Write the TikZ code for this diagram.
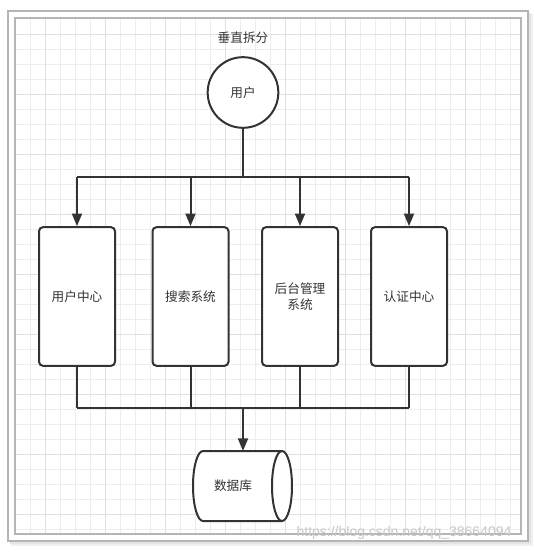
\documentclass[tikz,border=0pt]{standalone}
\usepackage{fontspec}
\setmainfont{Noto Sans CJK SC}
\newfontfamily\wmfont{Liberation Sans}
\usetikzlibrary{arrows.meta}
\definecolor{ink}{HTML}{333333}
\definecolor{gridc}{HTML}{EDEDED}
\definecolor{gridm}{HTML}{E0E0E0}
\definecolor{framec}{HTML}{B5B5B5}
\tikzset{
  conn/.style={draw=ink, line width=1.5pt},
  arr/.style={conn, -{Triangle[length=9.5pt,width=7.5pt]}},
  sysbox/.style={draw=ink, line width=1.5pt, fill=white, rounded corners=3pt,
    minimum width=57pt, minimum height=104pt, inner sep=0pt, align=center,
    font=\fontsize{9.5pt}{11.5pt}\selectfont, text=ink},
  usercircle/.style={draw=ink, line width=1.5pt, fill=white, circle,
    minimum size=53pt, inner sep=0pt, font=\fontsize{9.5pt}{11.5pt}\selectfont, text=ink},
  lbl/.style={font=\fontsize{9.5pt}{11.5pt}\selectfont, text=ink}
}
\begin{document}
\begin{tikzpicture}[x=0.75pt,y=-0.75pt]
\useasboundingbox (0,0) rectangle (534,554);
\fill[white] (0,0) rectangle (534,554);
% shadow and frames
\fill[black!6] (11,14) rectangle (533,546);
\fill[black!10] (10,13) rectangle (531,544);
\draw[framec, fill=white, line width=0.9pt] (8,11) rectangle (528,541);
\begin{scope}
\clip (15,18) rectangle (521,534);
\foreach \i in {1,...,34} {
  \draw[gridc, line width=0.75pt] ({15+\i*15},18) -- ({15+\i*15},534);
  \draw[gridc, line width=0.75pt] (15,{19+\i*15}) -- (521,{19+\i*15});
}
\foreach \i in {0,...,8} {
  \draw[gridm, line width=0.75pt] ({45+\i*60},18) -- ({45+\i*60},534);
  \draw[gridm, line width=0.75pt] (15,{34+\i*60}) -- (521,{34+\i*60});
}
\end{scope}
\draw[framec, line width=0.9pt] (15,18) rectangle (521,534);

% title
\node[lbl] (title) at (243,38) {垂直拆分};

% user circle
\node[usercircle] (user) at (243,92.5) {用户};

% boxes
\node[sysbox] (b1) at (77,296.5) {用户中心};
\node[sysbox] (b2) at (190.5,296.5) {搜索系统};
\node[sysbox] (b3) at (300,296.5) {后台管理\\系统};
\node[sysbox] (b4) at (409,296.5) {认证中心};

% bus coordinates
\coordinate (top) at (243,177);
\coordinate (bot) at (243,408);

\draw[conn] (user.south) -- (top);
\draw[conn] (b1.north |- top) -- (b4.north |- top);
\draw[arr] (b1.north |- top) -- (b1.north);
\draw[arr] (b2.north |- top) -- (b2.north);
\draw[arr] (b3.north |- top) -- (b3.north);
\draw[arr] (b4.north |- top) -- (b4.north);

\draw[conn] (b1.south) -- (b1.south |- bot);
\draw[conn] (b2.south) -- (b2.south |- bot);
\draw[conn] (b3.south) -- (b3.south |- bot);
\draw[conn] (b4.south) -- (b4.south |- bot);
\draw[conn] (b1.south |- bot) -- (b4.south |- bot);

% database cylinder
\draw[ink, line width=1.5pt, fill=white]
  (203,451) -- (282,451) arc[start angle=90, end angle=-90, x radius=7.5pt, y radius=26.25pt]
  -- (203,521) arc[start angle=270, end angle=90, x radius=7.5pt, y radius=26.25pt] -- cycle;
\draw[ink, line width=1.5pt] (282,451) arc[start angle=90, end angle=270, x radius=7.5pt, y radius=26.25pt];
\coordinate (dbtop) at (243,451);
\node[lbl] (dblabel) at (233,486) {数据库};
\draw[arr] (bot) -- (dbtop);

% watermark
\node[text=black!22, font=\wmfont\fontsize{10.5pt}{12pt}\selectfont] (wm) at (404,533) {https://blog.csdn.net/qq\_38664094};
\end{tikzpicture}
\end{document}
